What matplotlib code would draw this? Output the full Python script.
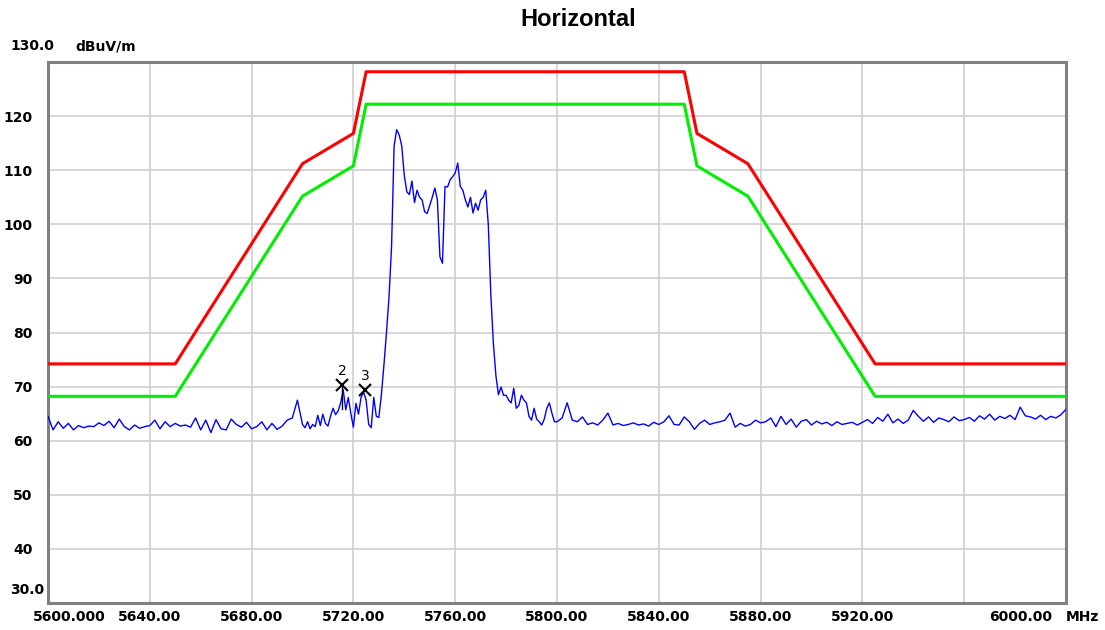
import numpy as np
import matplotlib
matplotlib.use("Agg")
import matplotlib.pyplot as plt

# limit lines (MHz, dBuV/m)
lim_f = [5600, 5650, 5700, 5720, 5725, 5850, 5855, 5875, 5925, 6000]
lim_avg = [68.2, 68.2, 105.2, 110.8, 122.2, 122.2, 110.8, 105.2, 68.2, 68.2]
lim_pk = [74.2, 74.2, 111.2, 116.8, 128.2, 128.2, 116.8, 111.2, 74.2, 74.2]

f_left = np.arange(5600, 5700, 2)
v_left = [64.5, 62.0, 63.5, 62.3, 63.2, 62.0, 62.8, 62.4, 62.7, 62.6,
          63.3, 62.8, 63.6, 62.4, 64.0, 62.6, 62.0, 62.9, 62.3, 62.6,
          62.8, 63.8, 62.2, 63.5, 62.6, 63.2, 62.7, 62.9, 62.5, 64.2,
          62.0, 63.8, 61.5, 63.9, 62.2, 62.0, 64.0, 63.0, 62.5, 63.4,
          62.2, 62.6, 63.5, 62.0, 63.2, 62.1, 62.7, 63.8, 64.2, 67.5]
f_mid = np.arange(5700, 5800, 1)
v_mid = [63.0, 62.4, 63.5, 62.2, 63.0, 62.6, 64.7, 62.8, 64.9, 63.2,
         62.7, 64.5, 66.0, 64.8, 65.5, 67.0, 69.4, 65.7, 68.0, 65.0,
         62.5, 66.9, 64.9, 68.0, 69.0, 67.5, 63.0, 62.4, 68.0, 64.5,
         64.3, 68.5, 74.0, 80.0, 86.6, 96.0, 114.5, 117.5, 116.5, 114.5,
         109.0, 106.0, 105.5, 108.0, 104.0, 106.3, 105.0, 104.5, 102.3, 102.0,
         103.5, 105.0, 106.7, 104.5, 94.0, 92.8, 107.0, 106.9, 108.2, 108.8,
         109.5, 111.3, 107.0, 106.3, 104.5, 103.2, 105.0, 102.1, 103.9, 102.6,
         104.5, 105.0, 106.3, 100.0, 87.0, 78.0, 72.0, 68.5, 69.9, 68.4,
         68.4, 67.5, 67.0, 69.7, 66.0, 66.5, 68.4, 67.5, 67.0, 64.5,
         63.8, 66.0, 64.0, 63.5, 62.9, 64.0, 66.0, 67.0, 65.1, 63.5]
f_right = np.arange(5800, 6001, 2)
v_right = [63.5, 64.2, 67.0, 63.8, 63.5, 64.4, 63.0, 63.3, 62.9, 63.8,
           65.1, 62.9, 63.2, 62.8, 63.0, 63.3, 62.9, 63.1, 62.7, 63.4,
           63.0, 63.5, 64.6, 63.0, 62.9, 64.4, 63.5, 62.1, 63.2, 63.8,
           63.0, 63.3, 63.5, 63.8, 65.1, 62.5, 63.2, 62.7, 63.0, 63.8,
           63.3, 63.5, 64.2, 62.6, 64.5, 63.0, 64.0, 62.5, 63.6, 63.9,
           62.9, 63.6, 63.1, 63.4, 62.8, 63.5, 63.0, 63.2, 63.4, 62.9,
           63.4, 63.9, 63.2, 64.3, 63.6, 64.9, 63.3, 64.0, 63.2, 63.8,
           65.6, 64.5, 63.6, 64.4, 63.4, 64.2, 63.9, 63.5, 64.4, 63.7,
           63.9, 64.3, 63.6, 64.6, 64.0, 64.9, 63.8, 64.5, 64.1, 64.7,
           63.9, 66.2, 64.6, 64.4, 64.0, 64.7, 63.9, 64.5, 64.2, 64.8,
           65.8]

trace_f = np.concatenate([f_left, f_mid, f_right])
trace_v = np.array(v_left + v_mid + v_right)

# markers
mk_names = ["2", "3"]
mk_f = [5715.5, 5724.6]
mk_v = [70.3, 69.4]

xticks = [5640, 5680, 5720, 5760, 5800, 5840, 5880, 5920]
xtick_labels = ["5640.00", "5680.00", "5720.00", "5760.00", "5800.00",
                "5840.00", "5880.00", "5920.00"]
yticks = [40, 50, 60, 70, 80, 90, 100, 110, 120]

fig = plt.figure(figsize=(11.05, 6.3), dpi=100)
ax = fig.add_axes([48/1105, 27/630, 1018/1105, 541/630])

ax.plot(lim_f, lim_pk, color="#ff0000", lw=2.2, zorder=3)
ax.plot(lim_f, lim_avg, color="#00ee00", lw=2.2, zorder=3)
ax.plot(trace_f, trace_v, color="#0000ff", lw=1.0, zorder=4)

for name, f, v in zip(mk_names, mk_f, mk_v):
    ax.plot(f, v, marker="x", color="black", ms=8, mew=1.5, zorder=5)
    ax.text(f, v + 1.2, name, ha="center", va="bottom", fontsize=10,
            color="black", zorder=5)
ax.plot([mk_f[0], mk_f[0]], [mk_v[0], 65.8], color="black", lw=1, zorder=5)

ax.set_xlim(5600, 6000)
ax.set_ylim(30, 130)
ax.set_xticks(list(np.arange(5640, 6000, 40)))
ax.set_xticklabels([])
ax.set_yticks(yticks)
ax.set_yticklabels([str(t) for t in yticks], fontsize=10, fontweight="bold",
                   family="DejaVu Sans")
ax.tick_params(length=0, pad=11)
ax.grid(True, color="#cfcfcf", lw=1.2)
ax.set_axisbelow(True)
for s in ax.spines.values():
    s.set_color("#808080")
    s.set_linewidth(2.2)

lab = dict(fontsize=10, fontweight="bold", family="DejaVu Sans", color="black")
ylab = 1 - 617/630
for t, l in zip(xticks, xtick_labels):
    x = ax.transData.transform((t, 30))[0] / fig.bbox.width
    fig.text(x, ylab, l, ha="center", va="center", **lab)
fig.text(33/1105, ylab, "5600.000", ha="left", va="center", **lab)
fig.text(1052/1105, ylab, "6000.00", ha="right", va="center", **lab)
fig.text(1066/1105, ylab, "MHz", ha="left", va="center", **lab)
fig.text(10/1105, 1 - 46/630, "130.0", ha="left", va="center", **lab)
fig.text(75/1105, 1 - 46/630, "dBuV/m", ha="left", va="center", **lab)
fig.text(10/1105, 1 - 590/630, "30.0", ha="left", va="center", **lab)

fig.text(578/1105, 1 - 19/630, "Horizontal", ha="center", va="center",
         fontsize=17, fontweight="bold", family="Liberation Sans")

fig.savefig("out.png", dpi=100)
